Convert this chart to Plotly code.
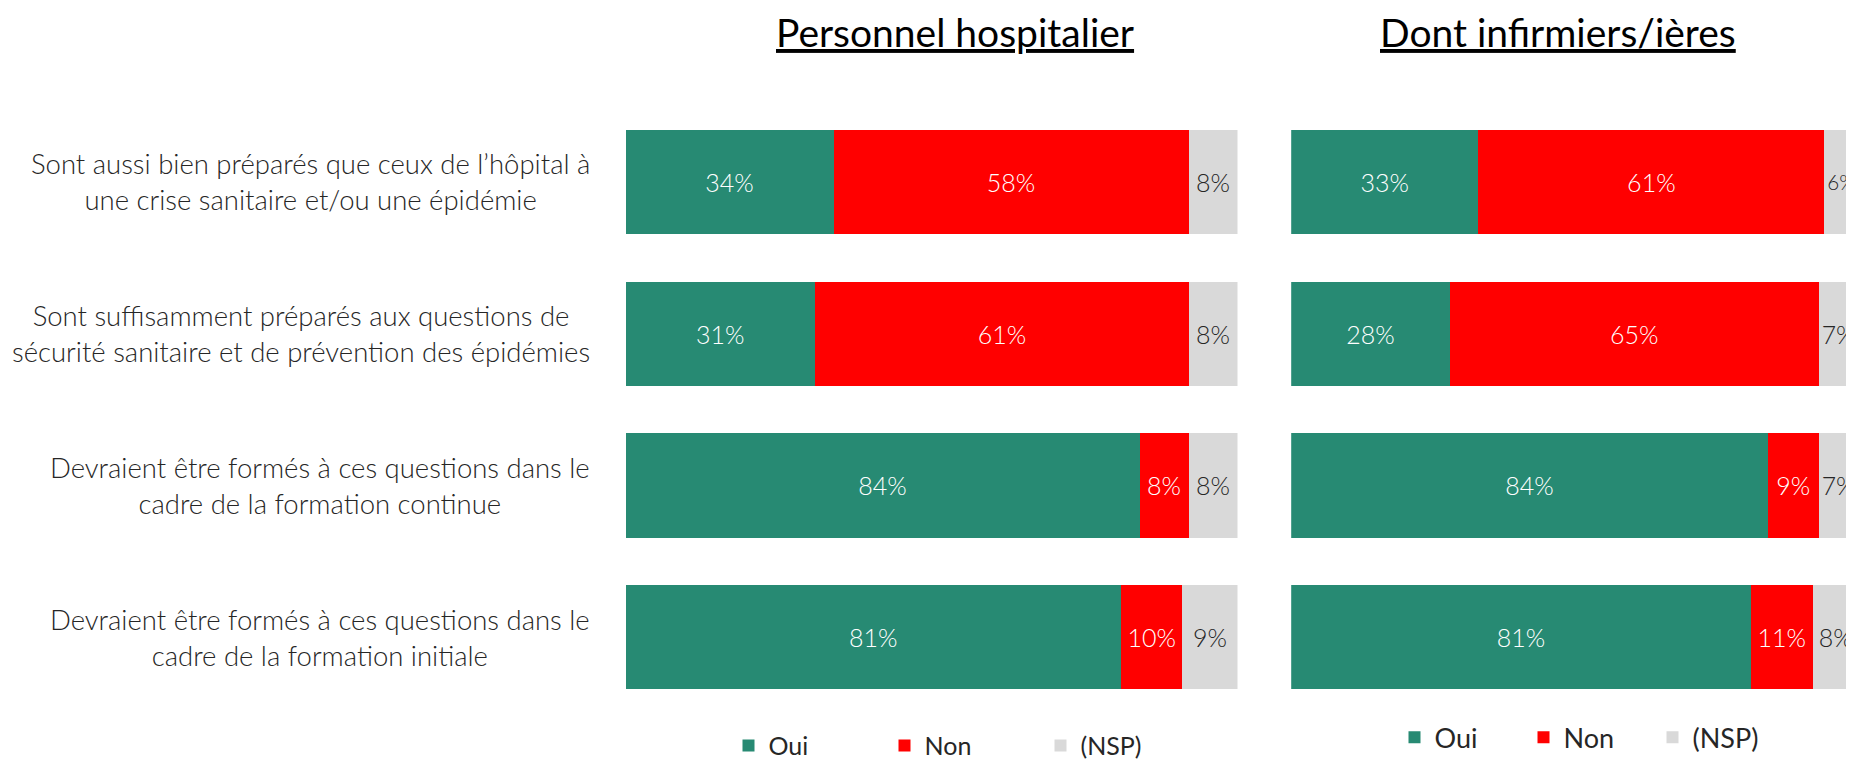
import plotly.graph_objects as go

# ---- data ----
categories = [
    "Sont aussi bien préparés que ceux de l’hôpital à<br>une crise sanitaire et/ou une épidémie",
    "Sont suffisamment préparés aux questions de<br>sécurité sanitaire et de prévention des épidémies",
    "Devraient être formés à ces questions dans le<br>cadre de la formation continue",
    "Devraient être formés à ces questions dans le<br>cadre de la formation initiale",
]
series_names = ["Oui", "Non", "(NSP)"]
panel_titles = ["Personnel hospitalier", "Dont infirmiers/ières"]

hosp_oui = [34, 31, 84, 81]
hosp_non = [58, 61, 8, 10]
hosp_nsp = [8, 8, 8, 9]

inf_oui = [33, 28, 84, 81]
inf_non = [61, 65, 9, 11]
inf_nsp = [6, 7, 7, 8]

# ---- styles ----
colors = ["#278A73", "#FF0000", "#D9D9D9"]
text_colors = ["#FFFFFF", "#FFFFFF", "#262626"]
FONT = "Lato"
W, H = 1854, 761
OFF = 8  # page body margin offset

fig = go.Figure()

panels = [
    ("x", "y", "legend", [hosp_oui, hosp_non, hosp_nsp]),
    ("x2", "y2", "legend2", [inf_oui, inf_non, inf_nsp]),
]
for xa, ya, leg, series in panels:
    for name, vals, col, tcol in zip(series_names, series, colors, text_colors):
        fig.add_trace(go.Bar(
            y=categories, x=vals, name=name, orientation="h",
            xaxis=xa, yaxis=ya, legend=leg,
            marker=dict(color=col, line=dict(width=0)),
            text=[f"{v}%" for v in vals], textposition="inside",
            insidetextanchor="middle", textangle=0,
            textfont=dict(family=FONT, size=25, color=tcol, weight=300),
            hoverinfo="skip",
        ))

mt = 182.5 - 76.5 - OFF           # plot top in figure px
plot_bottom = 641.5 + 76.5 - OFF  # plot bottom in figure px
mb = H - plot_bottom
plot_h = plot_bottom - mt


def xp(px):
    """screen px -> paper x"""
    return (px - OFF) / W


def yp(py):
    """screen px -> paper y"""
    return (plot_bottom - (py - OFF)) / plot_h


fig.update_layout(
    width=W, height=H,
    margin=dict(l=0, r=0, t=mt, b=mb),
    barmode="stack", bargap=0.313,
    plot_bgcolor="white", paper_bgcolor="white",
    font=dict(family=FONT, color="#262626"),
    xaxis=dict(domain=[xp(625.5), xp(1237.5)], range=[0, 100], visible=False, fixedrange=True),
    xaxis2=dict(domain=[xp(1291.2), xp(1858.4)], range=[0, 100], visible=False, fixedrange=True),
    yaxis=dict(autorange="reversed", visible=False, anchor="x"),
    yaxis2=dict(autorange="reversed", visible=False, anchor="x2", matches="y"),
    legend=dict(orientation="h", xanchor="left", yanchor="middle",
                x=xp(749 - 20.5), y=yp(751),
                font=dict(family=FONT, size=25, color="#262626"),
                entrywidth=111, traceorder="normal", bgcolor="rgba(0,0,0,0)"),
    legend2=dict(orientation="h", xanchor="left", yanchor="middle",
                 x=xp(1415 - 20.5), y=yp(743),
                 font=dict(family=FONT, size=27, color="#262626"),
                 entrywidth=84, traceorder="normal", bgcolor="rgba(0,0,0,0)"),
)

# category labels (right-aligned block, centred lines)
for cat in categories:
    fig.add_annotation(
        x=xp(592), xref="paper", xanchor="right",
        y=cat, yref="y", yanchor="middle",
        text=cat, showarrow=False, align="center",
        font=dict(family=FONT, size=27.5, color="#262626", weight=300),
    )

# panel titles
for title, cx in zip(panel_titles, [955, 1558]):
    fig.add_annotation(
        x=xp(cx), xref="paper", xanchor="center",
        y=yp(31), yref="paper", yanchor="middle",
        text=f"<u>{title}</u>", showarrow=False,
        font=dict(family=FONT, size=39, color="#000000"),
    )

fig.write_html("out.html", config={"displayModeBar": False})
